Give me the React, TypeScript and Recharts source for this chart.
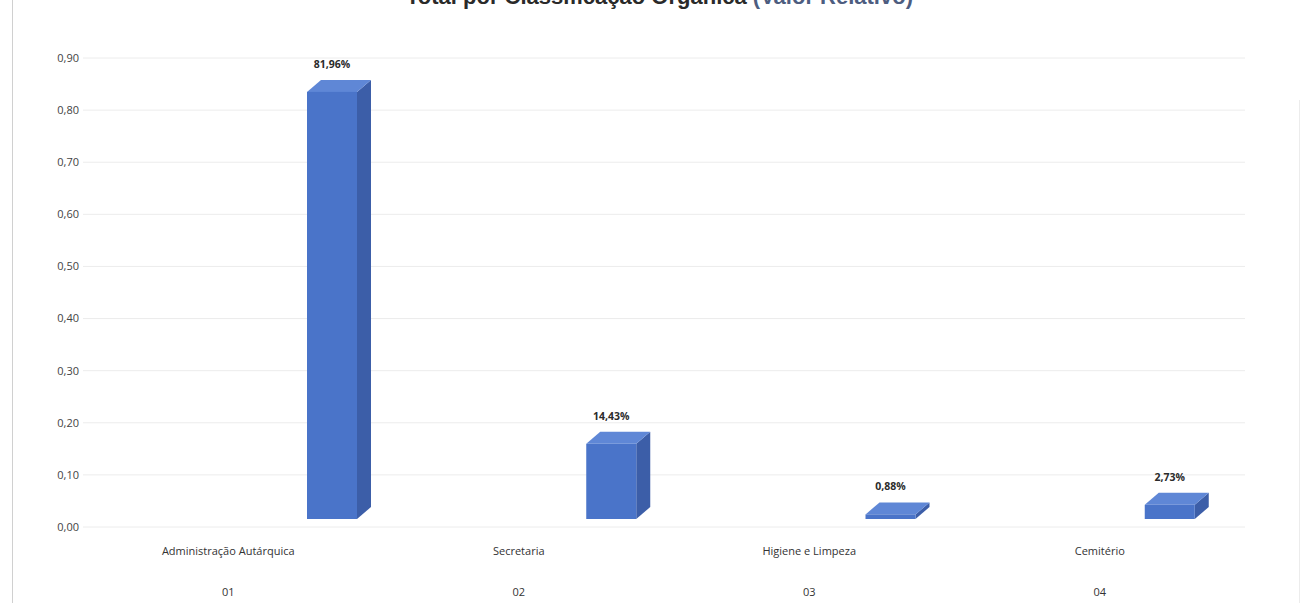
import React from "react";
import { BarChart, Bar, XAxis, YAxis, CartesianGrid, LabelList } from "recharts";

// Total por Classificação Orgânica (Valor Relativo)
const categories = ["Administração Autárquica", "Secretaria", "Higiene e Limpeza", "Cemitério"];
const codes = ["01", "02", "03", "04"];
const values = [0.8196, 0.1443, 0.0088, 0.0273];
const valueLabels = ["81,96%", "14,43%", "0,88%", "2,73%"];
const yTicks = [0, 0.1, 0.2, 0.3, 0.4, 0.5, 0.6, 0.7, 0.8, 0.9];

const data = categories.map((name, i) => ({
  name,
  code: codes[i],
  value: values[i],
  label: valueLabels[i],
}));

// 3D look: bars sit right of their category label and get a top and side face
const SHIFT_X = 64;
const SHIFT_Y = -8;
const DEPTH_X = 14;
const DEPTH_Y = 12;

const Bar3D = (props: any) => {
  const { x, y, width, height } = props;
  const fx = x + SHIFT_X;
  const fy = y + SHIFT_Y;
  const w = width;
  const h = height;
  const top = `${fx},${fy} ${fx + DEPTH_X},${fy - DEPTH_Y} ${fx + w + DEPTH_X},${fy - DEPTH_Y} ${fx + w},${fy}`;
  const side = `${fx + w},${fy} ${fx + w + DEPTH_X},${fy - DEPTH_Y} ${fx + w + DEPTH_X},${fy + h - DEPTH_Y} ${fx + w},${fy + h}`;
  return (
    <g>
      <polygon points={side} fill="#3c5ea8" />
      <polygon points={top} fill="#5f87d6" />
      <rect x={fx} y={fy} width={w} height={h} fill="#4a74c9" />
    </g>
  );
};

const renderValueLabel = (props: any) => {
  const { x, y, width, value } = props;
  return (
    <text
      x={x + SHIFT_X + width / 2}
      y={y + SHIFT_Y - 24}
      textAnchor="middle"
      fontSize={10.5}
      fontWeight="bold"
      fill="#2b2b2b"
      fontFamily="'Open Sans', sans-serif"
    >
      {value}
    </text>
  );
};

const CategoryTick = (props: any) => {
  const { x, y, payload, index } = props;
  return (
    <g>
      <text x={x} y={y + 20} textAnchor="middle" fontSize={11} fill="#333" fontFamily="'Open Sans', sans-serif">
        {payload.value}
      </text>
      <text x={x} y={y + 61} textAnchor="middle" fontSize={11} fill="#333" fontFamily="'Open Sans', sans-serif">
        {codes[index]}
      </text>
    </g>
  );
};

const formatTick = (v: number) => v.toFixed(2).replace(".", ",");

export default function App() {
  return (
    <div style={{ position: "relative", width: 1303, height: 603, overflow: "hidden", background: "#fff" }}>
      <style>{`body { margin: 0; }`}</style>
      <div
        style={{
          position: "absolute",
          top: -15,
          left: 8,
          width: 1303,
          textAlign: "center",
          fontFamily: "'Liberation Sans', Arial, sans-serif",
          fontWeight: "bold",
          fontSize: 22,
          lineHeight: "24px",
          color: "#2a2a2a",
        }}
      >
        Total por Classificação Orgânica <span style={{ color: "#4d5d80" }}>(Valor Relativo)</span>
      </div>
      <div style={{ position: "absolute", left: 12, top: 0, width: 1, height: 603, background: "#d0d0d0" }} />
      <div style={{ position: "absolute", left: 1299, top: 100, width: 1, height: 503, background: "#ececec" }} />
      <BarChart
        width={1303}
        height={603}
        data={data}
        margin={{ top: 58, right: 58, left: 0, bottom: 0 }}
        barSize={50}
      >
        <CartesianGrid horizontal vertical={false} stroke="#ececec" />
        <XAxis
          dataKey="name"
          axisLine={false}
          tickLine={false}
          height={76}
          interval={0}
          tick={<CategoryTick />}
        />
        {/* hidden axis that places the columns (their spacing differs from the labels') */}
        <XAxis xAxisId="bars" dataKey="name" hide padding={{ left: 45, right: 0 }} height={76} />
        <YAxis
          domain={[0, 0.9]}
          ticks={yTicks}
          tickFormatter={formatTick}
          axisLine={false}
          tickLine={false}
          tickSize={0}
          tickMargin={4}
          width={83}
          tick={{ fontSize: 11, fill: "#444", fontFamily: "'Open Sans', sans-serif" }}
        />
        <Bar xAxisId="bars" dataKey="value" shape={<Bar3D />} isAnimationActive={false}>
          <LabelList dataKey="label" content={renderValueLabel} />
        </Bar>
      </BarChart>
    </div>
  );
}
